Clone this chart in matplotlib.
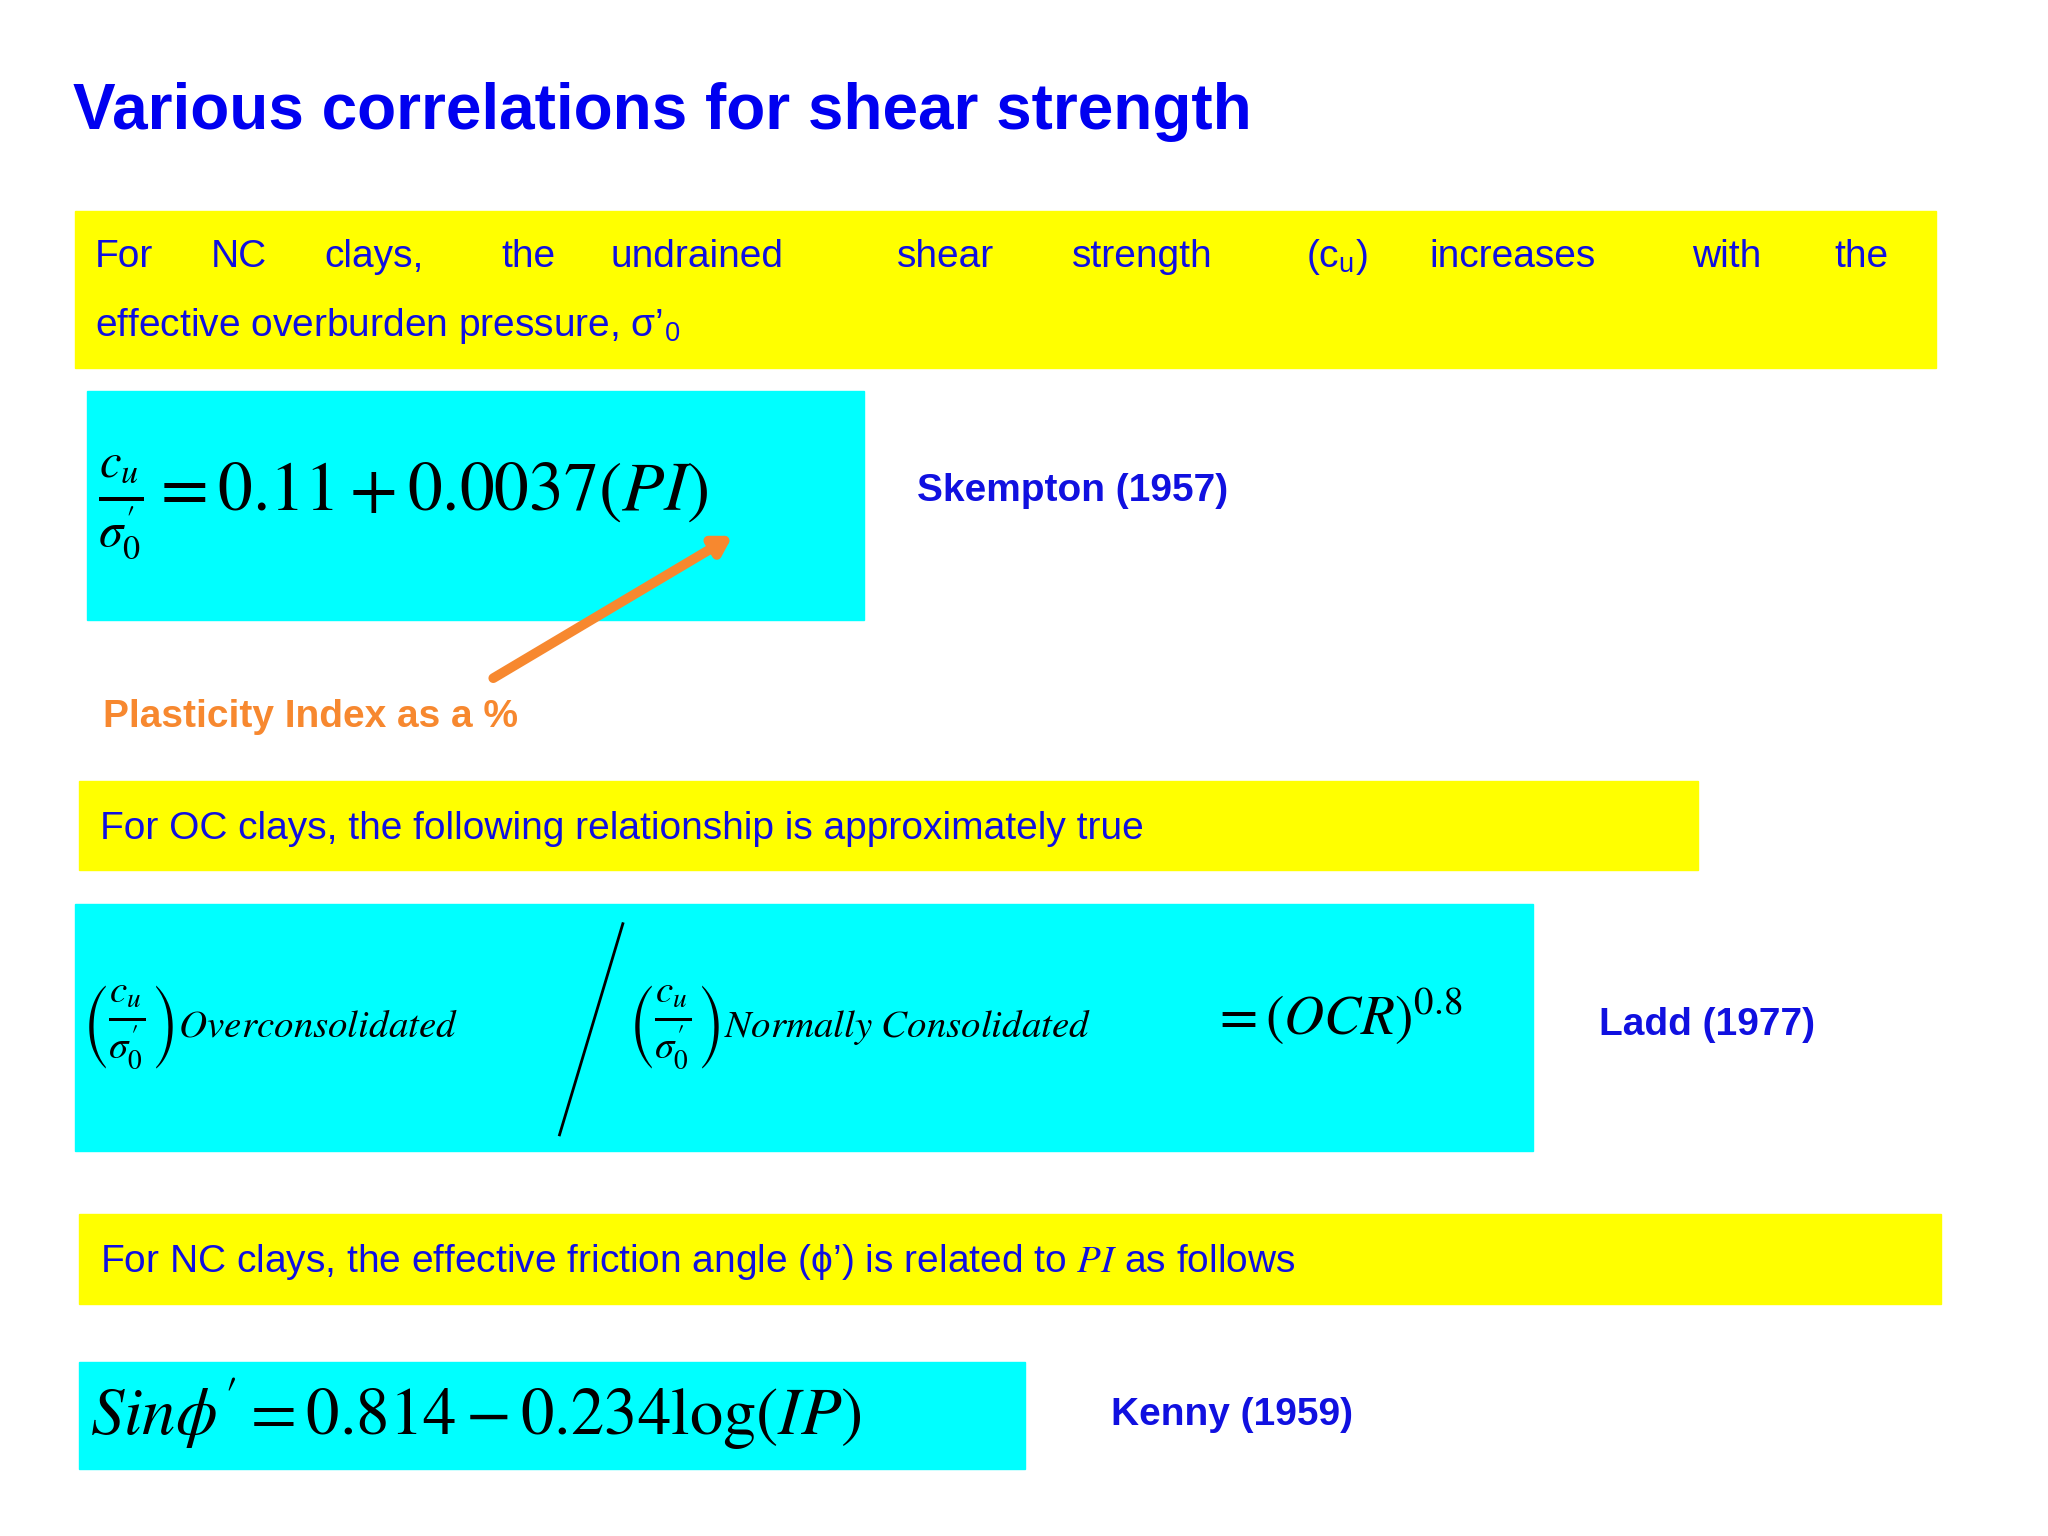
import matplotlib.pyplot as plt
from matplotlib.patches import Rectangle

plt.rcParams['font.family'] = ['Liberation Sans', 'DejaVu Sans']
plt.rcParams['mathtext.fontset'] = 'stix'

title = "Various correlations for shear strength"
line1_words = ["For", "NC", "clays,", "the", "undrained", "shear", "strength",
               "(c$_\\mathregular{u}$)", "increases", "with", "the"]
line1_x = [72, 160, 246, 380, 463, 680, 812, 990, 1083, 1282, 1390]
line2 = "effective overburden pressure, \u03c3\u2019$_\\mathregular{0}$"
oc_text = "For OC clays, the following relationship is approximately true"
phi_text = "For NC clays, the effective friction angle (\u03d5\u2019) is related to $\\mathit{PI}$ as follows"
refs = ["Skempton (1957)", "Ladd (1977)", "Kenny (1959)"]
note = "Plasticity Index as a %"

W, H = 1552, 1164
BLUE = "#1010E0"
YEL = "#FFFF00"
CYAN = "#00FFFF"
ORANGE = "#F7882F"

fig = plt.figure(figsize=(20.48, 15.36), dpi=100)
ax = fig.add_axes([0, 0, 1, 1])
ax.set_xlim(0, W)
ax.set_ylim(H, 0)
ax.axis('off')

ax.text(55, 85, title, color="#0000F0", fontsize=46, fontweight='bold', va='center')

# boxes
for x0, y0, x1, y1, c in [(57, 160, 1467, 279, YEL), (66, 296, 655, 470, CYAN),
                          (60, 592, 1287, 659, YEL), (57, 685, 1162, 872, CYAN),
                          (60, 920, 1471, 988, YEL), (60, 1032, 777, 1113, CYAN)]:
    ax.add_patch(Rectangle((x0, y0), x1 - x0, y1 - y0, color=c, zorder=0))

for w, x in zip(line1_words, line1_x):
    ax.text(x, 195, w, color=BLUE, fontsize=28, va='center')
ax.text(72, 247, line2, color=BLUE, fontsize=28, va='center')

ax.text(74, 385, r"$\frac{c_u}{\sigma_0^{\prime}} = 0.11 + 0.0037(PI)$",
        fontsize=50, va='center', color='black')
ax.text(695, 372, refs[0], color=BLUE, fontsize=28, fontweight='bold', va='center')

ax.annotate("", xy=(557, 405), xytext=(372, 515),
            arrowprops=dict(arrowstyle='-|>,head_width=0.6,head_length=1.0',
                            color=ORANGE, lw=7))
ax.text(78, 543, note, color=ORANGE, fontsize=28, fontweight='bold', va='center')

ax.text(76, 628, oc_text, color=BLUE, fontsize=28, va='center')

ax.text(62, 778, r"$\left(\frac{c_u}{\sigma_0^{\prime}}\right)_{Overconsolidated}$",
        fontsize=40, va='center', color='black')
ax.plot([472, 424], [700, 860], color='black', lw=2)
ax.text(476, 778, r"$\left(\frac{c_u}{\sigma_0^{\prime}}\right)_{Normally\ Consolidated}$",
        fontsize=40, va='center', color='black')
ax.text(918, 770, r"$=(OCR)^{0.8}$", fontsize=40, va='center', color='black')
ax.text(1212, 777, refs[1], color=BLUE, fontsize=28, fontweight='bold', va='center')

ax.text(76, 956, phi_text, color=BLUE, fontsize=28, va='center')

ax.text(68, 1072, r"$Sin\phi' = 0.814 - 0.234\log(IP)$", fontsize=48,
        va='center', color='black')
ax.text(842, 1072, refs[2], color=BLUE, fontsize=28, fontweight='bold', va='center')

fig.savefig("out.png", dpi=100, facecolor='white')
